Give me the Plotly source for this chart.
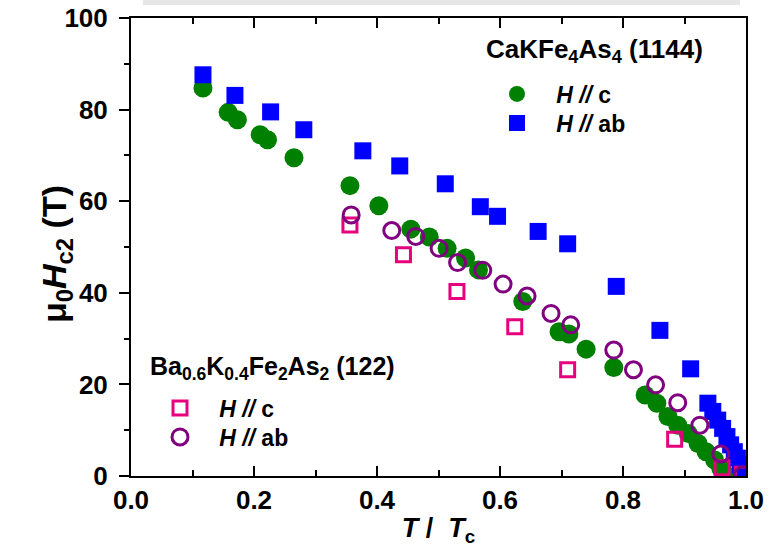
import plotly.graph_objects as go

# CaKFe4As4 (1144), H // c
t_1144_c = [0.117, 0.158, 0.173, 0.210, 0.222, 0.265, 0.356, 0.403, 0.455, 0.485,
            0.514, 0.544, 0.565, 0.637, 0.696, 0.712, 0.740, 0.785, 0.836, 0.855,
            0.873, 0.889, 0.906, 0.922, 0.935, 0.949, 0.959, 0.967]
h_1144_c = [84.7, 79.4, 77.8, 74.5, 73.4, 69.5, 63.4, 59.0, 53.9, 52.2,
            49.7, 47.6, 45.0, 38.1, 31.5, 31.0, 27.7, 23.7, 17.7, 15.9,
            13.0, 11.1, 9.3, 7.1, 5.3, 3.5, 1.7, 0.3]

# CaKFe4As4 (1144), H // ab
t_1144_ab = [0.117, 0.169, 0.227, 0.281, 0.377, 0.437, 0.511, 0.568, 0.596, 0.662,
             0.710, 0.789, 0.860, 0.910, 0.938, 0.946, 0.954, 0.962, 0.969, 0.975,
             0.981, 0.986, 0.991, 0.996]
h_1144_ab = [87.6, 83.1, 79.5, 75.6, 71.0, 67.7, 63.8, 58.8, 56.7, 53.4,
             50.7, 41.4, 31.8, 23.4, 15.9, 14.1, 12.2, 10.4, 8.6, 6.8,
             5.3, 3.9, 2.4, 1.2]

# Ba0.6K0.4Fe2As2 (122), H // c
t_122_c = [0.356, 0.443, 0.530, 0.624, 0.710, 0.884, 0.961, 0.994]
h_122_c = [54.8, 48.3, 40.3, 32.6, 23.2, 8.0, 1.8, 0.4]

# Ba0.6K0.4Fe2As2 (122), H // ab
t_122_ab = [0.358, 0.424, 0.463, 0.501, 0.531, 0.572, 0.605, 0.644, 0.683, 0.715,
            0.785, 0.817, 0.853, 0.889, 0.925, 0.959, 0.994]
h_122_ab = [57.0, 53.6, 52.3, 49.7, 46.6, 44.9, 41.9, 39.3, 35.5, 33.0,
            27.5, 23.2, 19.9, 16.0, 11.1, 4.8, 0.2]

x_ticks = [0.0, 0.2, 0.4, 0.6, 0.8, 1.0]
x_tick_labels = ["0.0", "0.2", "0.4", "0.6", "0.8", "1.0"]
y_ticks = [0, 20, 40, 60, 80, 100]

title_1144 = "CaKFe<sub>4</sub>As<sub>4</sub> (1144)"
title_122 = "Ba<sub>0.6</sub>K<sub>0.4</sub>Fe<sub>2</sub>As<sub>2</sub> (122)"
y_title = "μ<sub>0</sub><i>H</i><sub>c2</sub> (T)"
x_title = "<i>T</i> /  <i>T</i><sub>c</sub>"
NB = "\u00a0\u00a0\u00a0"
name_c = NB + "<i>H //</i> c"
name_ab = NB + "<i>H //</i> ab"

FONT = "Liberation Sans, Arial, sans-serif"
GREEN = "#008000"
BLUE = "#0000ff"
PINK = "#e6007e"
PURPLE = "#800080"

fig = go.Figure()

fig.add_trace(go.Scatter(
    x=t_1144_c, y=h_1144_c, mode="markers", name=name_c,
    marker=dict(symbol="circle", size=19, color=GREEN, line=dict(width=0)),
    legend="legend"))
fig.add_trace(go.Scatter(
    x=t_1144_ab, y=h_1144_ab, mode="markers", name=name_ab,
    marker=dict(symbol="square", size=17, color=BLUE, line=dict(width=0)),
    legend="legend2"))
fig.add_trace(go.Scatter(
    x=t_122_c, y=h_122_c, mode="markers", name=name_c,
    marker=dict(symbol="square-open", size=14, color=PINK, line=dict(width=3, color=PINK)),
    legend="legend3"))
fig.add_trace(go.Scatter(
    x=t_122_ab, y=h_122_ab, mode="markers", name=name_ab,
    marker=dict(symbol="circle-open", size=16, color=PURPLE, line=dict(width=3, color=PURPLE)),
    legend="legend4"))

tickfont = dict(family=FONT, size=26, color="black", weight="bold")
axis_common = dict(showline=True, linewidth=2, linecolor="black", showgrid=False,
                   zeroline=False, tickcolor="black", tickwidth=2, automargin=False,
                   tickfont=tickfont)

legfont = dict(family=FONT, size=23, color="black", weight="bold")


def leg(x, y):
    return dict(x=x, y=y, xanchor="left", yanchor="middle",
                bgcolor="rgba(0,0,0,0)", borderwidth=0, font=legfont,
                itemsizing="trace", visible=True)


PL, PR, PT, PB = 131, 746, 18, 476
W, H = 784, 557


def px_x(p):
    return (p - PL) / (PR - PL)


def px_y(p):
    return (PB - p) / (PB - PT)


fig.update_layout(
    width=W, height=H,
    margin=dict(l=PL, r=W - PR, t=PT, b=H - PB),
    paper_bgcolor="white", plot_bgcolor="white",
    showlegend=True,
    font=dict(family=FONT, color="black", weight="bold"),
    xaxis=dict(range=[0, 1.0], tickvals=x_ticks, ticktext=x_tick_labels,
               ticks="inside", ticklen=10, mirror="ticks", ticklabelstandoff=0,
               minor=dict(dtick=0.1, tick0=0, ticks="inside", ticklen=6, tickwidth=1.5, tickcolor="black"),
               title=dict(text=x_title, standoff=4,
                          font=dict(family=FONT, size=27, color="black", weight="bold")),
               **axis_common),
    yaxis=dict(range=[0, 100], tickvals=y_ticks,
               ticks="outside", ticklen=10, mirror=True, ticklabelstandoff=6,
               minor=dict(dtick=10, tick0=0, ticks="outside", ticklen=5, tickwidth=1.5, tickcolor="black"),
               **axis_common),
    yaxis2=dict(range=[0, 100], overlaying="y", side="right", anchor="x",
                tickvals=y_ticks, ticks="inside", ticklen=10, tickwidth=2, tickcolor="black",
                minor=dict(dtick=10, tick0=0, ticks="inside", ticklen=10, tickwidth=1.5, tickcolor="black"),
                showticklabels=False, showgrid=False, zeroline=False, showline=False,
                automargin=False),
    legend=leg(px_x(497), px_y(94)),
    legend2=leg(px_x(497), px_y(123)),
    legend3=leg(px_x(160), px_y(408)),
    legend4=leg(px_x(160), px_y(437)),
    annotations=[
        dict(text=title_1144, xref="paper", yref="paper", x=px_x(484), y=px_y(50),
             xanchor="left", yanchor="middle", showarrow=False,
             font=dict(family=FONT, size=26, color="black", weight="bold")),
        dict(text=title_122, xref="paper", yref="paper", x=px_x(148), y=px_y(368),
             xanchor="left", yanchor="middle", showarrow=False,
             font=dict(family=FONT, size=25, color="black", weight="bold")),
        dict(text=y_title, xref="paper", yref="paper", x=px_x(56), y=px_y(254),
             xanchor="center", yanchor="middle", showarrow=False, textangle=-90,
             font=dict(family=FONT, size=34, color="black", weight="bold")),
    ],
    shapes=[dict(type="rect", xref="paper", yref="paper",
                 x0=px_x(143), x1=px_x(740), y0=px_y(5), y1=px_y(0),
                 fillcolor="#e6e6e6", line=dict(width=0), layer="below")],
)

fig.write_html("out.html",
               config={"displayModeBar": False},
               post_script="document.body.style.margin='0px';"
                           "document.body.style.overflow='hidden';")
